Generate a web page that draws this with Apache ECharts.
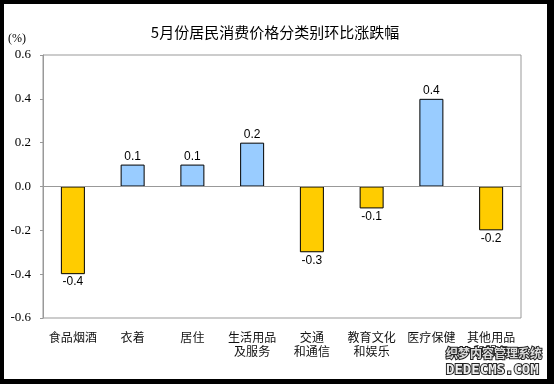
<!DOCTYPE html>
<html><head><meta charset="utf-8">
<script src="https://cdn.jsdelivr.net/npm/echarts@6/dist/echarts.min.js"></script>
<style>
html,body{margin:0;padding:0;background:#000;width:554px;height:384px;overflow:hidden;}
#c{position:absolute;left:4px;top:4px;width:543px;height:375px;background:#fff;}
</style></head>
<body><div id="c"></div>
<script>
const categories = ['食品烟酒','衣着','居住','生活用品\n及服务','交通\n和通信','教育文化\n和娱乐','医疗保健','其他用品\n和服务'];
const values = [-0.4, 0.1, 0.1, 0.2, -0.3, -0.1, 0.4, -0.2];
const titleText = '5月份居民消费价格分类别环比涨跌幅';
const unitText = '(%)';
const watermark1 = '织梦内容管理系统';
const watermark2 = 'DEDECMS.COM';

const chart = echarts.init(document.getElementById('c'), null, {renderer:'canvas'});
chart.setOption({
  animation:false,
  backgroundColor:'#fff',
  title:{text:titleText,left:266,top:16,textAlign:'center',
    textStyle:{fontFamily:'Noto Sans CJK SC',fontSize:15,fontWeight:'normal',color:'#000'}},
  graphic:[
    {type:'text',left:4,top:29,style:{text:unitText,font:'12px "Liberation Serif", serif',fill:'#000'}},
    {type:'text',left:441,top:342,z:10,style:{text:watermark1,font:'bold 12px "Noto Sans CJK SC"',fill:'#ddd',stroke:'#222',lineWidth:2}},
    {type:'text',left:441,top:358,z:10,style:{text:watermark2,font:'bold 14px "DejaVu Sans Mono"',fill:'#eee',stroke:'#222',lineWidth:2}}
  ],
  grid:{left:39,top:51,right:26,bottom:61,show:true,borderColor:'#999',borderWidth:1,backgroundColor:'transparent'},
  xAxis:{type:'category',data:categories,
    axisLine:{show:false},axisTick:{show:false},
    axisLabel:{interval:0,margin:12,fontFamily:'Noto Sans CJK SC',fontSize:12,color:'#111',lineHeight:14}},
  yAxis:{type:'value',min:-0.6,max:0.6,interval:0.2,
    axisLine:{show:true,lineStyle:{color:'#999'}},
    axisTick:{show:true,inside:false,length:3,lineStyle:{color:'#999'}},
    splitLine:{show:false},
    axisLabel:{margin:12,formatter:v=>v.toFixed(1),fontFamily:'"Liberation Serif", serif',fontSize:13,color:'#000'}},
  series:[{type:'bar',barWidth:24,
    data:values.map(v=>({value:v,
      itemStyle:{color:v>=0?'#99CCFF':'#FFCC00',borderColor:'#000',borderWidth:1},
      label:{show:true,position:v>=0?'top':'bottom',distance:2}})),
    label:{formatter:p=>p.value.toFixed(1),fontFamily:'Liberation Sans',fontSize:12,color:'#000'},
    markLine:{silent:true,symbol:'none',label:{show:false},lineStyle:{color:'#999',type:'solid',width:1},data:[{yAxis:0}]}
  }]
});
</script></body></html>
